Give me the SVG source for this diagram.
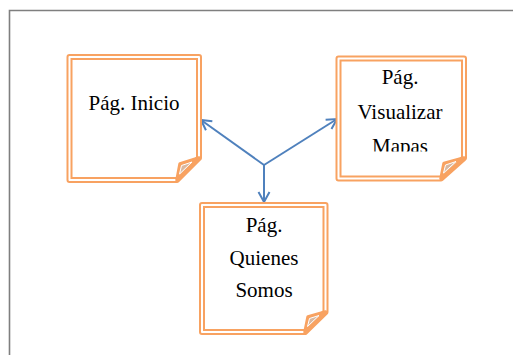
<svg xmlns="http://www.w3.org/2000/svg" width="513" height="355" viewBox="0 0 513 355">
<style>
.o{fill:none;stroke:#F8A261;stroke-width:6;stroke-linejoin:round}
.i{fill:none;stroke:#fff;stroke-width:2;stroke-linejoin:round}
.fo{fill:#E8C4A8;stroke:#F8A261;stroke-width:3.5;stroke-linejoin:round}
.fi{fill:#D9B8A0;stroke:#fff;stroke-width:1;stroke-linejoin:round}
.t{font-family:"Liberation Serif","Times New Roman",serif;font-size:21px;fill:#000;text-anchor:middle}
.c{stroke:#4F81BD;stroke-width:2;fill:none}
</style>
<defs>
<marker id="ah" markerUnits="userSpaceOnUse" markerWidth="14" markerHeight="14" refX="11" refY="7" orient="auto">
<path d="M1,1.5 L11,7 L1,12.5" fill="none" stroke="#4F81BD" stroke-width="2"/>
</marker>
<clipPath id="clip2"><rect x="330" y="50" width="140" height="101.5"/></clipPath>
</defs>
<rect width="513" height="355" fill="#fff"/>
<path d="M9.5,355 V10.5 H513" fill="none" stroke="#7f7f7f" stroke-width="1.6"/>
<g id="connectors">
<line class="c" x1="264" y1="165" x2="201" y2="120" marker-end="url(#ah)"/>
<line class="c" x1="264" y1="165" x2="337" y2="119" marker-end="url(#ah)"/>
<line class="c" x1="264" y1="165" x2="264" y2="202" marker-end="url(#ah)"/>
</g>
<g id="pag-inicio">
<path class="o" d="M69.5,57 H199 V158 L177,180 H69.5 Z"/>
<path class="i" d="M69.5,57 H199 V158 L177,180 H69.5 Z"/>
<path class="fo" d="M177,180 L180,164 L199,158 Z"/>
<path class="fi" d="M179.5,174 L181.5,165.5 L192,162 Z"/>
<text class="t" x="134" y="110">Pág. Inicio</text>
</g>
<g id="pag-visualizar-mapas">
<path class="o" d="M338.5,58.5 H464 V158 L441,178.5 H338.5 Z"/>
<path class="i" d="M338.5,58.5 H464 V158 L441,178.5 H338.5 Z"/>
<path class="fo" d="M441,178.5 L444,163.5 L464,158 Z"/>
<path class="fi" d="M443.5,173 L445.5,165 L456,161.5 Z"/>
<g clip-path="url(#clip2)">
<text class="t" x="400" y="84">Pág.</text>
<text class="t" x="400" y="119">Visualizar</text>
<text class="t" x="400" y="153">Mapas</text>
</g>
</g>
<g id="pag-quienes-somos">
<path class="o" d="M202,205 H325.5 V312 L305,332 H202 Z"/>
<path class="i" d="M202,205 H325.5 V312 L305,332 H202 Z"/>
<path class="fo" d="M305,332 L308,317 L325.5,312 Z"/>
<path class="fi" d="M307.5,326.5 L309.5,318.5 L319,315.5 Z"/>
<text class="t" x="264" y="232">Pág.</text>
<text class="t" x="264" y="265">Quienes</text>
<text class="t" x="264" y="297">Somos</text>
</g>
</svg>
